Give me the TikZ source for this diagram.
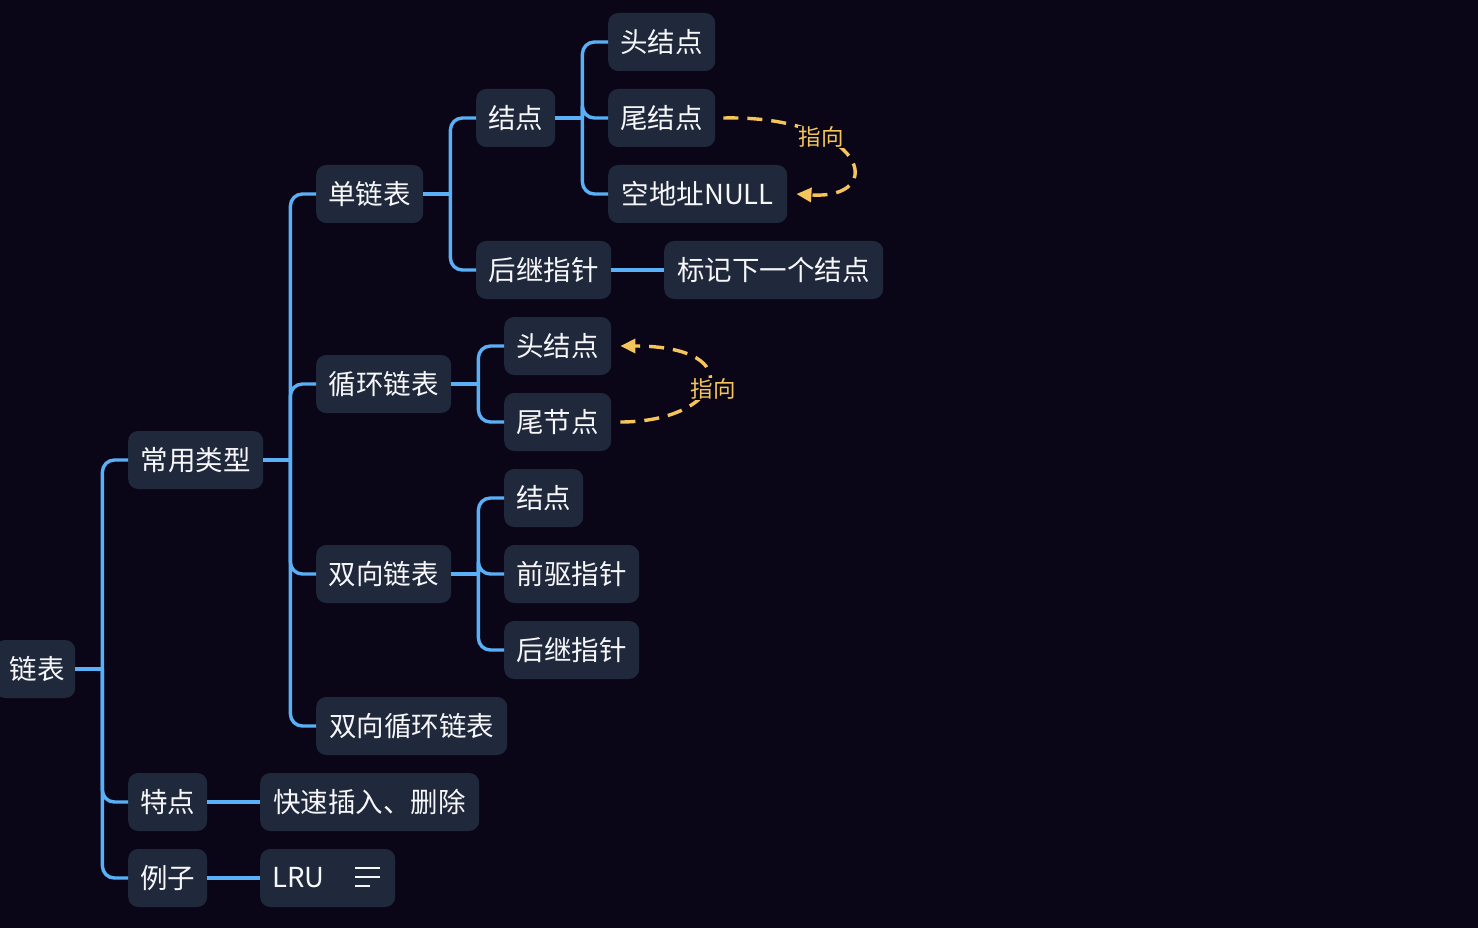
\documentclass[tikz,border=0pt]{standalone}
\usepackage{fontspec}
\setmainfont{Noto Sans CJK SC}
\usetikzlibrary{arrows.meta,calc}
\definecolor{bg}{HTML}{0A0617}
\definecolor{boxfill}{HTML}{1F293B}
\definecolor{linkblue}{HTML}{5AB0F7}
\definecolor{noteyellow}{HTML}{F5C55C}
\definecolor{txt}{HTML}{F7F7F9}
\tikzset{
  box/.style={fill=boxfill, rounded corners=10pt, minimum height=58pt, inner xsep=0pt, inner ysep=0pt,
    anchor=west, text=txt, font=\fontsize{27.5pt}{30pt}\selectfont},
  link/.style={draw=linkblue, line width=3.4pt},
  branch/.style={link, rounded corners=12pt},
  pointer/.style={draw=noteyellow, line width=3.4pt, dash pattern=on 15pt off 9pt,
    -{Triangle[length=15pt,width=14pt]}},
  notelabel/.style={text=noteyellow, fill=bg, inner sep=1pt, font=\fontsize{22.5pt}{24pt}\selectfont}
}
\begin{document}
\begin{tikzpicture}[x=1pt,y=-1pt]
\fill[bg] (0,0) rectangle (1478,928);
\useasboundingbox (0,0) rectangle (1478,928);

% nodes
\node[box, minimum width=80pt] (root) at (-5,669) {\hspace*{4pt}链表};
\node[box, minimum width=135pt] (types) at (128,460) {常用类型};
\node[box, minimum width=79pt] (feat) at (128,802) {特点};
\node[box, minimum width=79pt] (ex) at (128,878) {例子};
\node[box, minimum width=219pt] (fast) at (260,802) {快速插入、删除};
\node[box, minimum width=135pt] (lru) at (260,878) {\hspace*{-59pt}LRU};

\node[box, minimum width=107pt] (single) at (316,194) {单链表};
\node[box, minimum width=135pt] (circ) at (316,384) {循环链表};
\node[box, minimum width=135pt] (dbl) at (316,574) {双向链表};
\node[box, minimum width=191pt] (dblcirc) at (316,726) {双向循环链表};

\node[box, minimum width=79pt] (snode) at (476,118) {结点};
\node[box, minimum width=135pt] (snext) at (476,270) {后继指针};
\node[box, minimum width=219pt] (mark) at (664,270) {标记下一个结点};
\node[box, minimum width=107pt] (head) at (608,42) {头结点};
\node[box, minimum width=107pt] (tail) at (608,118) {尾结点};
\node[box, minimum width=179pt] (null) at (608,194) {空地址NULL};

\node[box, minimum width=107pt] (chead) at (504,346) {头结点};
\node[box, minimum width=107pt] (ctail) at (504,422) {尾节点};

\node[box, minimum width=79pt] (dnode) at (504,498) {结点};
\node[box, minimum width=135pt] (dprev) at (504,574) {前驱指针};
\node[box, minimum width=135pt] (dnext) at (504,650) {后继指针};

% LRU icon
\draw[txt!85, line width=2.2pt] ($(lru.west)+(95,-10)$) -- ++(25,0);
\draw[txt!85, line width=2.2pt] ($(lru.west)+(95,-1)$) -- ++(25,0);
\draw[txt!85, line width=2.2pt] ($(lru.west)+(95,8)$) -- ++(15,0);

% connectors
\foreach \p/\cs in {root/{types,feat,ex}, types/{single,circ,dbl,dblcirc}, single/{snode,snext},
                    snode/{head,tail,null}, circ/{chead,ctail}, dbl/{dnode,dprev,dnext}} {
  \draw[link] (\p.east) -- ++(27,0) coordinate (\p-trunk);
  \foreach \c in \cs {
    \draw[branch] (\p-trunk) |- (\c.west);
  }
}
\draw[link] (feat.east) -- (fast.west);
\draw[link] (ex.east) -- (lru.west);
\draw[link] (snext.east) -- (mark.west);

% pointer arrows
\coordinate (p1s) at ($(tail.east)+(8,0)$);
\coordinate (p1e) at ($(null.east)+(9,0)$);
\draw[pointer] (p1s) .. controls (865,115) and (890,200) .. (p1e);
\node[notelabel] (lab1) at (821,137) {指向};

\coordinate (p2s) at ($(ctail.east)+(9,0)$);
\coordinate (p2e) at ($(chead.east)+(9,0)$);
\draw[pointer] (p2s) .. controls (722,422) and (752,346) .. (p2e);
\node[notelabel] (lab2) at (713,389) {指向};
\end{tikzpicture}
\end{document}
